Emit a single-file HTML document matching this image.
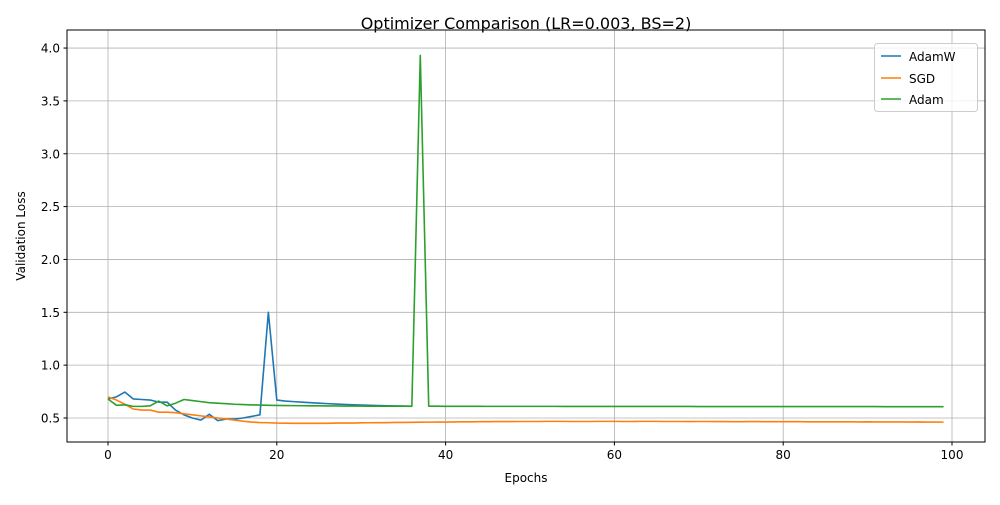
<!DOCTYPE html>
<html><head><meta charset="utf-8"><style>
body{margin:0;background:#fff;font-family:"Liberation Sans","DejaVu Sans",sans-serif}
</style></head><body>
<svg id="chart" width="1000" height="500" xmlns="http://www.w3.org/2000/svg" font-family="DejaVu Sans, Liberation Sans, sans-serif">
<rect width="1000" height="500" fill="#fff"/>
<text x="526" y="29" font-size="16" text-anchor="middle">Optimizer Comparison (LR=0.003, BS=2)</text>
<g id="grid"></g><g id="series"></g><g id="ticks"></g>
<rect x="67" y="30" width="918" height="412" fill="none" stroke="#000" stroke-width="1"/>
<text x="526" y="482" font-size="12" text-anchor="middle">Epochs</text>
<text x="25" y="236" font-size="12" text-anchor="middle" transform="rotate(-90 25 236)">Validation Loss</text>
<g>
<rect x="874.5" y="43.5" width="103" height="68" rx="3" fill="#fff" fill-opacity="0.8" stroke="#ccc"/>
<g><line x1="881" y1="56" x2="901" y2="56" stroke="#1f77b4" stroke-width="1.5"/><text x="909" y="61" font-size="12">AdamW</text></g>
<g><line x1="881" y1="78" x2="901" y2="78" stroke="#ff7f0e" stroke-width="1.5"/><text x="909" y="83" font-size="12">SGD</text></g>
<g><line x1="881" y1="99" x2="901" y2="99" stroke="#2ca02c" stroke-width="1.5"/><text x="909" y="104" font-size="12">Adam</text></g>
</g>
</svg>
<script>
const xTicks=[0,20,40,60,80,100];
const yTicks=[0.5,1.0,1.5,2.0,2.5,3.0,3.5,4.0];
const adamw=[0.68,0.70,0.745,0.68,0.675,0.67,0.65,0.65,0.575,0.53,0.50,0.48,0.535,0.475,0.49,0.49,0.50,0.515,0.53,1.5,0.67,0.66,0.655,0.65,0.645,0.64,0.636,0.632,0.628,0.625,0.622,0.62,0.618,0.616,0.614,0.613,0.612];
const sgd=[0.70,0.67,0.63,0.585,0.575,0.575,0.555,0.555,0.55,0.54,0.53,0.52,0.51,0.50,0.49,0.48,0.47,0.462,0.457,0.455,0.452,0.451,0.45,0.45,0.45,0.45,0.45,0.452,0.452,0.452,0.454,0.455,0.456,0.456,0.458,0.458,0.459,0.46,0.461,0.462,0.462,0.463,0.464,0.464,0.465,0.465,0.466,0.466,0.466,0.467,0.467,0.467,0.468,0.468,0.468,0.467,0.467,0.467,0.468,0.468,0.468,0.467,0.467,0.468,0.468,0.468,0.467,0.467,0.467,0.466,0.467,0.467,0.466,0.466,0.465,0.465,0.466,0.466,0.465,0.465,0.465,0.465,0.465,0.464,0.464,0.464,0.464,0.464,0.464,0.463,0.464,0.463,0.463,0.463,0.463,0.462,0.463,0.462,0.462,0.461];
const adam=[0.68,0.62,0.625,0.61,0.61,0.615,0.66,0.615,0.64,0.675,0.665,0.655,0.645,0.64,0.635,0.63,0.627,0.624,0.622,0.62,0.619,0.618,0.617,0.616,0.615,0.615,0.614,0.614,0.613,0.613,0.613,0.612,0.612,0.612,0.612,0.612,0.611,3.93,0.612,0.612,0.611,0.611,0.611,0.611,0.611,0.61,0.61,0.61,0.61,0.61,0.61,0.61,0.61,0.61,0.609,0.609,0.609,0.609,0.609,0.609,0.609,0.609,0.609,0.609,0.609,0.609,0.609,0.609,0.609,0.609,0.608,0.608,0.608,0.608,0.608,0.608,0.608,0.608,0.608,0.608,0.608,0.608,0.608,0.608,0.608,0.608,0.608,0.608,0.608,0.608,0.608,0.608,0.607,0.607,0.607,0.607,0.607,0.607,0.607,0.607];
const NS="http://www.w3.org/2000/svg";
const xs=v=>108+v*8.44;
const ys=v=>418-(v-0.5)*105.7;
const grid=document.getElementById('grid'),ticks=document.getElementById('ticks'),ser=document.getElementById('series');
function mk(tag,attrs,parent){const e=document.createElementNS(NS,tag);for(const k in attrs)e.setAttribute(k,attrs[k]);parent.appendChild(e);return e;}
xTicks.forEach(t=>{const x=xs(t);
 const g=mk('line',{x1:x,x2:x,y1:30,y2:442,stroke:'#b0b0b0','stroke-width':0.8},grid);
 
 
 mk('line',{x1:x,x2:x,y1:442,y2:445.5,stroke:'#000'},ticks);
 const l=mk('text',{x:x,y:459,'font-size':12,'text-anchor':'middle'},ticks);l.textContent=t;
 
 });
yTicks.forEach(t=>{const y=ys(t);
 const g=mk('line',{x1:67,x2:985,y1:y,y2:y,stroke:'#b0b0b0','stroke-width':0.8},grid);
 
 
 mk('line',{x1:63.5,x2:67,y1:y,y2:y,stroke:'#000'},ticks);
 const l=mk('text',{x:60,y:y+4.5,'font-size':12,'text-anchor':'end'},ticks);l.textContent=t.toFixed(1);
 
 });
[[adamw,'#1f77b4','adamw-line'],[sgd,'#ff7f0e','sgd-line'],[adam,'#2ca02c','adam-line']].forEach(([d,c,n])=>{
 const p=mk('polyline',{points:d.map((v,i)=>xs(i)+','+ys(v)).join(' '),fill:'none',stroke:c,'stroke-width':1.6,'stroke-linejoin':'round'},ser);
 
 });
</script>
</body></html>
